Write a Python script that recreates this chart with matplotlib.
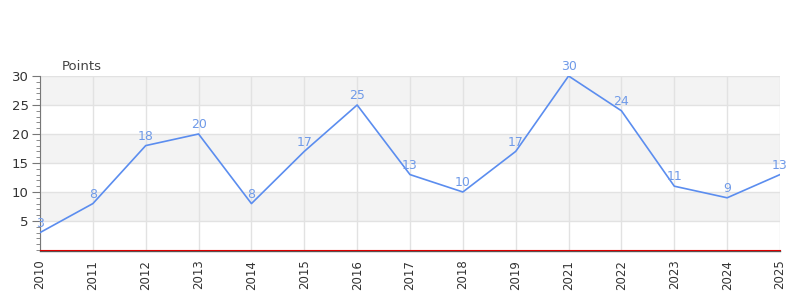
import matplotlib
matplotlib.use("Agg")
import matplotlib.pyplot as plt
from matplotlib.ticker import MultipleLocator

# data
years = ["2010", "2011", "2012", "2013", "2014", "2015", "2016", "2017",
         "2018", "2019", "2021", "2022", "2023", "2024", "2025"]
points = [3, 8, 18, 20, 8, 17, 25, 13, 10, 17, 30, 24, 11, 9, 13]

line_color = "#5b8def"
label_color = "#6f9ae8"

fig = plt.figure(figsize=(8, 3), dpi=100)
ax = fig.add_axes([0.05, 0.1667, 0.925, 0.58])

x = list(range(len(years)))
ax.set_xlim(0, len(years) - 1)
ax.set_ylim(0, 30)

# alternating bands
for lo in range(5, 30, 10):
    ax.axhspan(lo, lo + 5, color="#f3f3f3", zorder=0, lw=0)

ax.yaxis.set_major_locator(MultipleLocator(5))
ax.yaxis.set_minor_locator(MultipleLocator(1))
ax.set_yticks([5, 10, 15, 20, 25, 30])
ax.grid(True, which="major", color="#e2e2e2", lw=1, zorder=1)
ax.set_axisbelow(True)

ax.plot(x, points, color=line_color, lw=1.2, zorder=3)
for xi, v in zip(x, points):
    ax.annotate(str(v), (xi, v), xytext=(0, 2), textcoords="offset points",
                ha="center", va="bottom", fontsize=9, color=label_color, zorder=4)

ax.axhline(0, color="#dd0000", lw=0.8, zorder=5, clip_on=False)

ax.set_xticks(x)
ax.set_xticklabels(years)
ax.tick_params(axis="x", length=0, pad=6, labelrotation=90, labelsize=8.5,
               labelcolor="#333333")
ax.tick_params(axis="y", which="major", length=6, color="#777777", labelsize=9.5,
               labelcolor="#333333", pad=2)
ax.tick_params(axis="y", which="minor", length=3, color="#777777")

for s in ["top", "right"]:
    ax.spines[s].set_visible(False)
ax.spines["left"].set_color("#777777")
ax.spines["bottom"].set_color("#555555")
ax.spines["bottom"].set_position(("outward", 1))
ax.spines["bottom"].set_linewidth(1.0)

fig.text(62 / 800, 1 - 66 / 300, "Points", fontsize=9.5, color="#444444",
         ha="left", va="center")

fig.savefig("out.png", dpi=100)
